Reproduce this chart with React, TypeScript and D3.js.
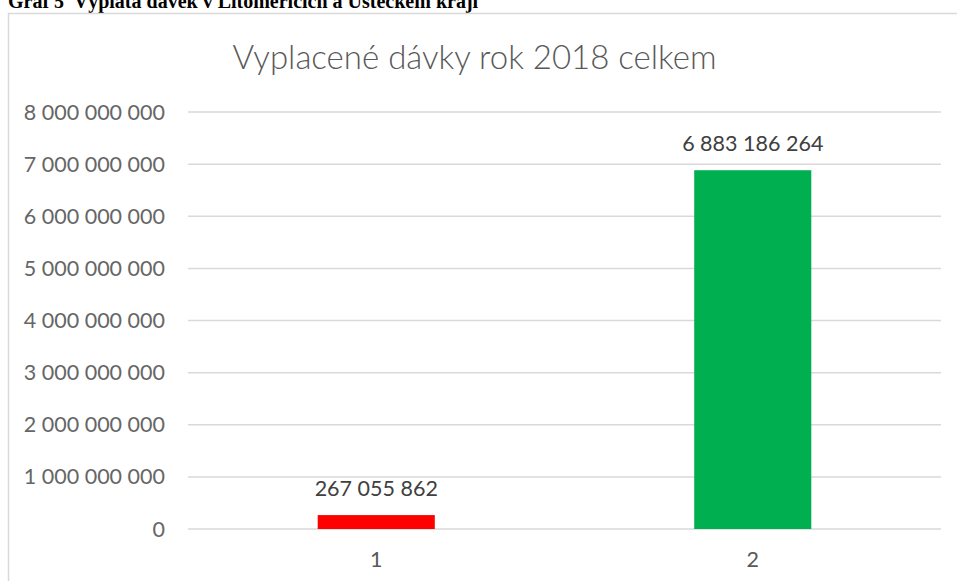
import React from 'react'
import * as d3 from 'd3'

const categories = ['1', '2']
const values = [267055862, 6883186264]
const barColors = ['#ff0000', '#00b050']
const yTickValues = [0, 1e9, 2e9, 3e9, 4e9, 5e9, 6e9, 7e9, 8e9]

const caption = 'Graf 5  Výplata dávek v Litoměřicích a Ústeckém kraji'
const title = 'Vyplacené dávky rok 2018 celkem'

const W = 957
const H = 581
const left = 188
const right = 941
const top = 112
const bottom = 529

const fmt = (v: number) => d3.format(',')(v).replace(/,/g, ' ')

export default function App() {
  const x = d3.scaleBand<string>()
    .domain(categories)
    .range([left, right])
    .paddingInner(0.689)
    .paddingOuter(0.3445)
  const y = d3.scaleLinear().domain([0, 8e9]).range([bottom, top])

  const font = 'Lato, "Open Sans", sans-serif'

  return (
    <svg width={W} height={H} style={{ position: 'absolute', left: 0, top: 0 }}>
      <rect width={W} height={H} fill="#fff" />
      <text x={8} y={8} fontFamily='"Liberation Serif", "Times New Roman", serif'
        fontWeight="bold" fontSize={20} fill="#000" style={{ whiteSpace: 'pre' }}>{caption}</text>
      <rect x={8.5} y={13.5} width={W + 10} height={H} fill="none" stroke="#d9d9d9" strokeWidth={1.5} />
      <text x={474.5} y={69} textAnchor="middle" fontFamily={font}
        fontWeight={300} fontSize={33} fill="#595959">{title}</text>

      {yTickValues.map(t => (
        <g key={t}>
          <line x1={left} x2={right} y1={y(t)} y2={y(t)} stroke="#d9d9d9" strokeWidth={1.5} />
          <text x={165} y={y(t)} dy="0.35em" textAnchor="end" fontFamily={font}
            fontSize={21.5} fill="#666">{fmt(t)}</text>
        </g>
      ))}

      {categories.map((c, i) => (
        <g key={c}>
          <rect x={x(c)} y={y(values[i])} width={x.bandwidth()}
            height={y(0) - y(values[i])} fill={barColors[i]} />
          <text x={x(c)! + x.bandwidth() / 2} y={y(values[i]) - 19} textAnchor="middle"
            fontFamily={font} fontSize={21.5} fill="#404040">{fmt(values[i])}</text>
          <text x={x(c)! + x.bandwidth() / 2} y={567} textAnchor="middle"
            fontFamily={font} fontSize={21.5} fill="#595959">{c}</text>
        </g>
      ))}
    </svg>
  )
}
